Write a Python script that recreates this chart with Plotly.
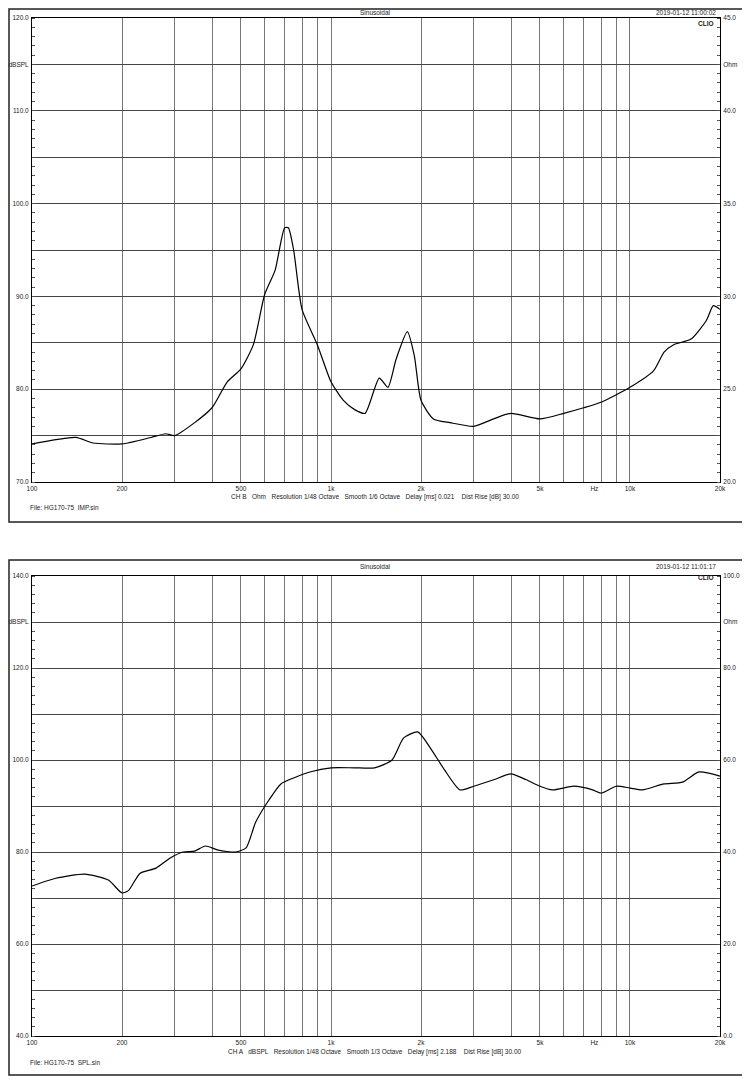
import plotly.graph_objects as go

W, H = 742, 1070   # page body has an 8px margin in the browser
OFF = 8
# top: impedance (Ohm)
imp_f = [100,140,160,200,250,280,300,350,400,450,500,550,600,650,700,720,750,800,900,1000,1100,1200,1300,1450,1550,1650,1800,1900,2000,2200,2500,3000,3500,4000,5000,6000,7000,8000,10000,12000,13000,14000,16000,18000,19000,20000]
imp_ohm = [22.05,22.4,22.1,22.05,22.4,22.6,22.5,23.2,24.0,25.4,26.1,27.4,30.1,31.4,33.7,33.7,32.5,29.3,27.4,25.4,24.4,23.9,23.7,25.6,25.1,26.6,28.1,26.8,24.4,23.4,23.2,23.0,23.4,23.7,23.4,23.7,24.0,24.3,25.1,26.0,27.0,27.4,27.7,28.7,29.5,29.3]
# bottom: SPL (dB)
spl_f = [100,120,150,180,200,210,230,260,290,320,350,380,420,480,520,560,620,680,750,850,1000,1200,1400,1600,1750,1950,2150,2400,2700,3000,3500,4000,4500,5000,5500,6500,7500,8000,9000,10000,11000,13000,15000,17000,20000]
spl_db = [72.6,74.3,75.2,73.9,71.1,71.6,75.4,76.5,78.7,80.0,80.2,81.3,80.4,80.0,80.9,86.5,91.3,94.8,96.1,97.4,98.3,98.3,98.3,100.0,104.8,106.1,102.6,97.8,93.5,94.3,95.7,97.0,95.7,94.3,93.5,94.3,93.5,92.8,94.3,93.9,93.5,94.8,95.2,97.4,96.5]

grid_f = [200,300,400,500,600,700,800,900,1000,2000,3000,4000,5000,6000,7000,8000,9000,10000]
x_lab_v = [100,200,500,1000,2000,5000,7600,10000,20000]
x_lab_t = ["100","200","500","1k","2k","5k","Hz","10k","20k"]

FONT = dict(family="Liberation Sans, Arial", size=6.5, color="#222")

def px(x):
    return (x - OFF) / W
def py(y):
    return 1 - (y - OFF) / H
def ydom(top_px, bot_px):
    return [py(bot_px), py(top_px)]

xd = [px(32), px(720)]
fig = go.Figure()
fig.add_trace(go.Scatter(x=imp_f, y=imp_ohm, xaxis="x", yaxis="y2", mode="lines",
                         line=dict(color="black", width=1.2, shape="spline", smoothing=0.6)))
fig.add_trace(go.Scatter(x=spl_f, y=spl_db, xaxis="x2", yaxis="y3", mode="lines",
                         line=dict(color="black", width=1.2, shape="spline", smoothing=0.6)))

def xax(anchor):
    return dict(type="log", range=[2, 4.30103], domain=xd, anchor=anchor,
                tickvals=x_lab_v, ticktext=x_lab_t, ticks="", showgrid=False,
                tickfont=FONT, showline=True, linecolor="black", mirror=True, zeroline=False,
                minor=dict(tickvals=grid_f, showgrid=True, gridcolor="#777", gridwidth=1, ticks=""))

def mk(rng, step, unit_val, unit, dom, anchor, side, overlay=None):
    vals, txt = [], []
    v = rng[0]
    while v <= rng[1] + 1e-9:
        vals.append(v)
        if abs(v - unit_val) < 1e-9:
            txt.append(unit)
        elif round((v - rng[0]) / step) % 2 == 0:
            txt.append("%.1f" % v)
        else:
            txt.append("")
        v += step
    d = dict(range=rng, domain=dom, anchor=anchor, side=side, tickvals=vals, ticktext=txt,
             showgrid=(side == "left"), gridcolor="#444", gridwidth=1, tickfont=FONT, ticks="",
             ticklabelstandoff=1,
             showline=True, linecolor="black", zeroline=False, fixedrange=True,
             minor=dict(dtick=step / 5, ticks="inside", ticklen=3, tickcolor="#555", showgrid=False))
    if overlay:
        d["overlaying"] = overlay
    return d

top = ydom(18, 482)
bot = ydom(576, 1036)
fig.update_layout(
    template="none",
    width=W, height=H, margin=dict(l=0, r=0, t=0, b=0), showlegend=False,
    paper_bgcolor="white", plot_bgcolor="rgba(0,0,0,0)", font=FONT,
    xaxis=xax("y"), xaxis2=xax("y3"),
    yaxis=mk([70, 120], 5, 115, "dBSPL", top, "x", "left"),
    yaxis2=mk([20, 45], 2.5, 42.5, "Ohm", top, "x", "right", "y"),
    yaxis3=mk([40, 140], 10, 130, "dBSPL", bot, "x2", "left"),
    yaxis4=mk([0, 100], 10, 90, "Ohm", bot, "x2", "right", "y3"),
)
fig.add_trace(go.Scatter(x=[None], y=[None], xaxis="x2", yaxis="y4", showlegend=False))
fig.add_trace(go.Scatter(x=[None], y=[None], xaxis="x", yaxis="y", showlegend=False))

shapes = []
for (t, b) in [(5, 522), (560, 1075)]:
    shapes.append(dict(type="rect", xref="paper", yref="paper", x0=px(9), x1=px(748),
                       y0=py(min(b, 1076)), y1=py(max(t, 9)), line=dict(color="#222", width=1.5)))
fig.update_layout(shapes=shapes)

ann = []
def txt(x, y, s, anchor="center", bold=False, size=6.5):
    ann.append(dict(x=px(x), y=py(y), xref="paper", yref="paper", text=("<b>%s</b>" % s if bold else s),
                    showarrow=False, xanchor=anchor, yanchor="middle",
                    font=dict(family="Liberation Sans, Arial", size=size, color="#222")))
for off, date, ch, fn in [(0, "2019-01-12 11:00:02",
                           "CH B   Ohm   Resolution 1/48 Octave   Smooth 1/6 Octave   Delay [ms] 0.021    Dist Rise [dB] 30.00",
                           "File: HG170-75  IMP.sin"),
                          (555, "2019-01-12 11:01:17",
                           "CH A   dBSPL   Resolution 1/48 Octave   Smooth 1/3 Octave   Delay [ms] 2.188    Dist Rise [dB] 30.00",
                           "File: HG170-75  SPL.sin")]:
    tt = 13 if off == 0 else 566
    txt(375, tt, "Sinusoidal")
    txt(718, tt, date, "right")
    txt(716, tt + 11, "CLIO", "right", bold=True)
    txt(375, 497 + off, ch)
    txt(28, 507 + off, fn, "left")
fig.update_layout(annotations=ann)

fig.write_html("out.html")
